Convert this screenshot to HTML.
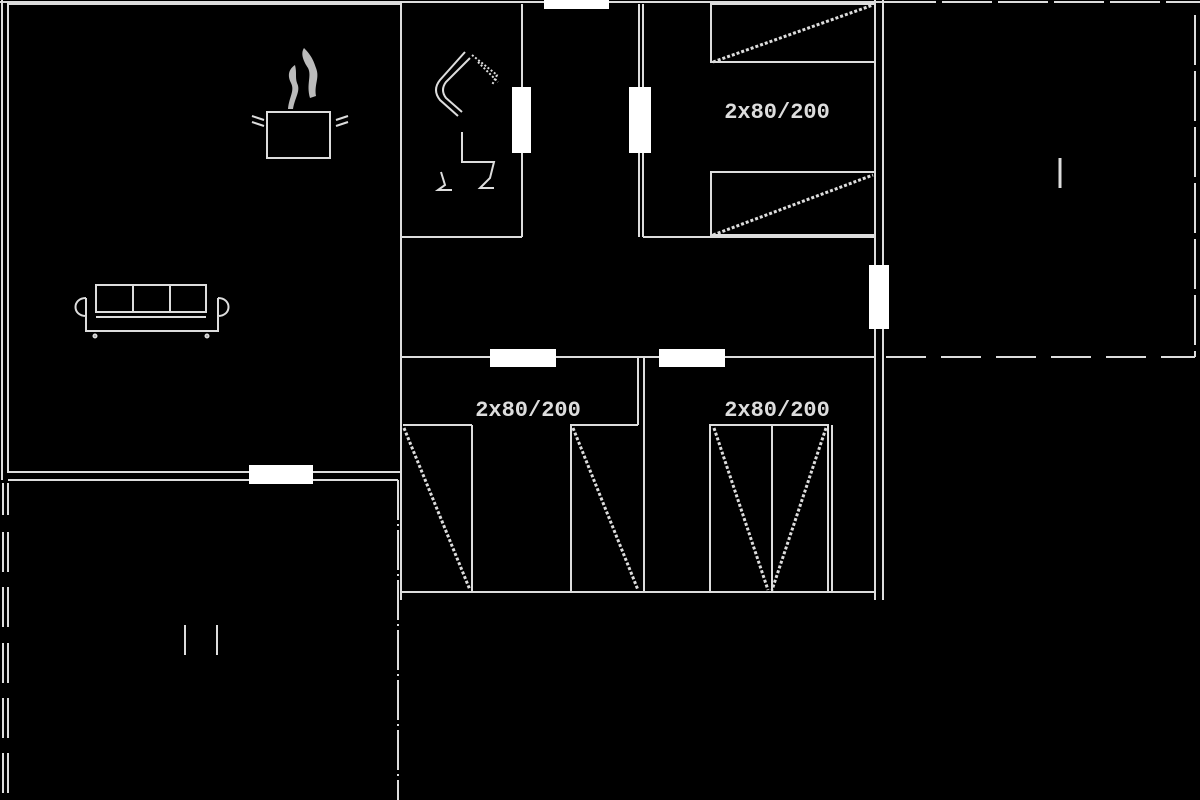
<!DOCTYPE html>
<html><head><style>html,body{margin:0;padding:0;background:#000;}svg{display:block}</style></head>
<body>
<svg width="1200" height="800" viewBox="0 0 1200 800" xmlns="http://www.w3.org/2000/svg">
<rect width="1200" height="800" fill="#000"/>
<g stroke="#ddd" stroke-width="2" fill="none">
<line x1="0" y1="2" x2="886" y2="2"/>
<line x1="886" y1="2" x2="1200" y2="2" stroke-dasharray="50,6"/>
<line x1="2" y1="0" x2="2" y2="480"/>
<rect x="8" y="4" width="393" height="468"/>
<line x1="8" y1="480" x2="398" y2="480"/>
<line x1="398" y1="480" x2="398" y2="800" stroke-dasharray="40,4,2,4"/>
<path d="M3 483V515M8 483V515M3 532V572M8 532V572M3 587V627M8 587V627M3 643V683M8 643V683M3 698V738M8 698V738M3 753V793M8 753V793"/>
<line x1="401" y1="237" x2="522" y2="237"/>
<line x1="522" y1="4" x2="522" y2="237"/>
<line x1="639" y1="4" x2="639" y2="237"/>
<line x1="643" y1="4" x2="643" y2="237"/>
<line x1="643" y1="237" x2="875" y2="237"/>
<rect x="711" y="4" width="164" height="58"/>
<rect x="711" y="172" width="164" height="63"/>
<g stroke-width="3" stroke-dasharray="3,2">
<line x1="713" y1="62" x2="873" y2="5"/>
<line x1="713" y1="235" x2="873" y2="175"/>
<line x1="404" y1="428" x2="470" y2="590"/>
<line x1="573" y1="428" x2="638" y2="590"/>
<line x1="714" y1="428" x2="768" y2="590"/>
<line x1="826" y1="428" x2="772" y2="590"/>
</g>
<line x1="875" y1="0" x2="875" y2="600"/>
<line x1="883" y1="0" x2="883" y2="600"/>
<line x1="886" y1="357" x2="1195" y2="357" stroke-dasharray="40,15"/>
<line x1="1195" y1="15" x2="1195" y2="357" stroke-dasharray="50,6"/>
<line x1="1060" y1="158" x2="1060" y2="188" stroke-width="3"/>
<line x1="401" y1="357" x2="875" y2="357"/>
<line x1="401" y1="357" x2="401" y2="600"/>
<line x1="401" y1="592" x2="875" y2="592"/>
<line x1="638" y1="357" x2="638" y2="425"/>
<line x1="644" y1="357" x2="644" y2="592"/>
<line x1="403" y1="425" x2="472" y2="425"/>
<line x1="570" y1="425" x2="638" y2="425"/>
<line x1="472" y1="425" x2="472" y2="592"/>
<line x1="571" y1="425" x2="571" y2="592"/>
<rect x="710" y="425" width="118" height="167"/>
<line x1="772" y1="425" x2="772" y2="592"/>
<line x1="832" y1="425" x2="832" y2="592"/>
<rect x="267" y="112" width="63" height="46"/>
<path d="M252 116l12 4M252 122l12 4M348 116l-12 4M348 122l-12 4" stroke-width="2"/>
<rect x="96" y="285" width="110" height="27"/>
<line x1="133" y1="285" x2="133" y2="312"/><line x1="170" y1="285" x2="170" y2="312"/>
<line x1="96" y1="317" x2="206" y2="317"/>
<path d="M86 298V331H218V298M86 298c-14 0-14 18 0 18M218 298c14 0 14 18 0 18"/>
<circle cx="95" cy="336" r="1.5"/><circle cx="207" cy="336" r="1.5"/>
<path d="M465 52L440 80Q432 90 440 100L458 116M470 58L446 82Q440 90 446 98L462 112" stroke-width="2"/>
<path d="M472 55l25 20l-5 10M478 62l20 20" stroke-dasharray="2,2" stroke-width="2"/>
<path d="M462 132V162H494L490 178L480 188H494M441 172L445 185L438 190H452" stroke-width="2"/>
<line x1="185" y1="625" x2="185" y2="655"/><line x1="217" y1="625" x2="217" y2="655"/>
</g>
<path d="M295 65c-6 4-8 10-4 18c4 8-2 14-3 26l5 0c2-12 8-18 4-26c-2-6 0-10 -2-18z" fill="#bbb"/>
<path d="M304 48c-4 6 0 14 4 20c4 8-2 16 2 30l6-2c-2-12 4-18 0-28c-2-6-4-12-12-20z" fill="#bbb"/>
<g fill="#fff">
<rect x="544" y="0" width="65" height="9"/>
<rect x="512" y="87" width="19" height="66"/>
<rect x="629" y="87" width="22" height="66"/>
<rect x="869" y="265" width="20" height="64"/>
<rect x="490" y="349" width="66" height="18"/>
<rect x="659" y="349" width="66" height="18"/>
<rect x="249" y="465" width="64" height="19"/>
</g>
<g fill="#ddd" font-family="Liberation Mono, monospace" font-size="22" font-weight="bold" text-anchor="middle">
<text x="777" y="118">2x80/200</text>
<text x="528" y="416">2x80/200</text>
<text x="777" y="416">2x80/200</text>
</g>
</svg>
</body></html>
